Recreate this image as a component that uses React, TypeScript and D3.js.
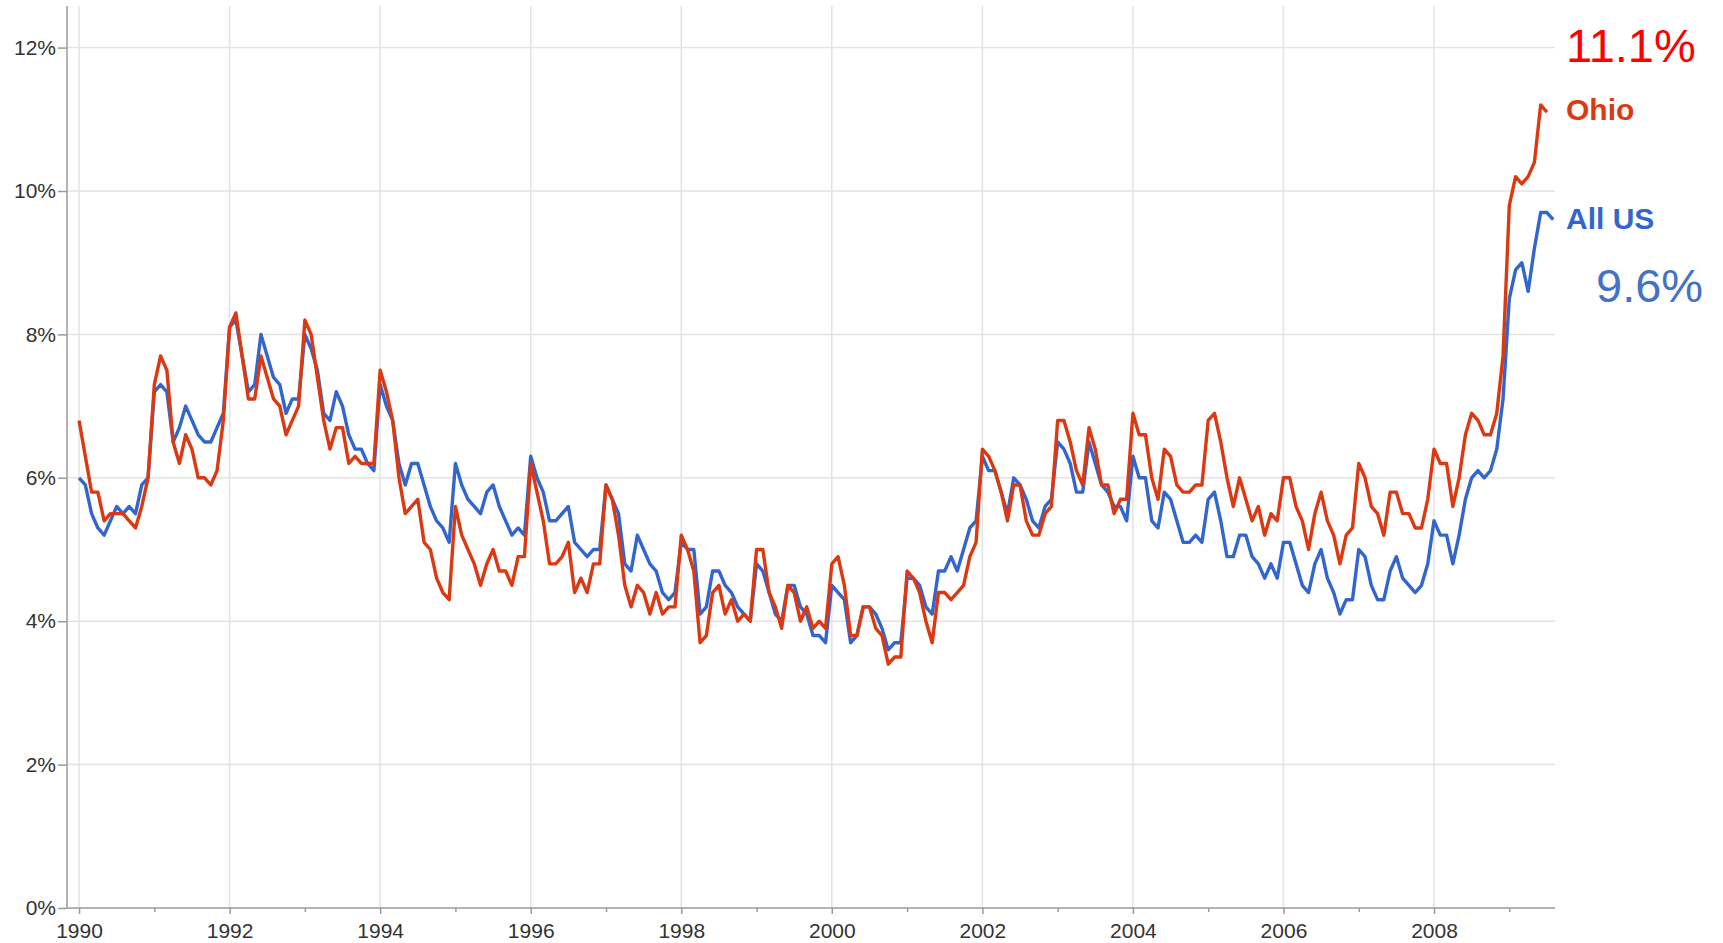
import React, { useEffect, useRef } from 'react';
import * as d3 from 'd3';

// monthly unemployment rate (%), first value is January 1990
const START_YEAR = 1990;

const ohio = [
	6.8, 6.3, 5.8, 5.8, 5.4, 5.5, 5.5, 5.5, 5.4, 5.3, 5.6, 6.0,
	7.3, 7.7, 7.5, 6.5, 6.2, 6.6, 6.4, 6.0, 6.0, 5.9, 6.1, 6.8,
	8.1, 8.3, 7.7, 7.1, 7.1, 7.7, 7.4, 7.1, 7.0, 6.6, 6.8, 7.0,
	8.2, 8.0, 7.4, 6.8, 6.4, 6.7, 6.7, 6.2, 6.3, 6.2, 6.2, 6.2,
	7.5, 7.2, 6.8, 6.0, 5.5, 5.6, 5.7, 5.1, 5.0, 4.6, 4.4, 4.3,
	5.6, 5.2, 5.0, 4.8, 4.5, 4.8, 5.0, 4.7, 4.7, 4.5, 4.9, 4.9,
	6.2, 5.8, 5.4, 4.8, 4.8, 4.9, 5.1, 4.4, 4.6, 4.4, 4.8, 4.8,
	5.9, 5.7, 5.2, 4.5, 4.2, 4.5, 4.4, 4.1, 4.4, 4.1, 4.2, 4.2,
	5.2, 5.0, 4.7, 3.7, 3.8, 4.4, 4.5, 4.1, 4.3, 4.0, 4.1, 4.0,
	5.0, 5.0, 4.4, 4.2, 3.9, 4.5, 4.4, 4.0, 4.2, 3.9, 4.0, 3.9,
	4.8, 4.9, 4.5, 3.8, 3.8, 4.2, 4.2, 3.9, 3.8, 3.4, 3.5, 3.5,
	4.7, 4.6, 4.4, 4.0, 3.7, 4.4, 4.4, 4.3, 4.4, 4.5, 4.9, 5.1,
	6.4, 6.3, 6.1, 5.8, 5.4, 5.9, 5.9, 5.4, 5.2, 5.2, 5.5, 5.6,
	6.8, 6.8, 6.5, 6.1, 5.9, 6.7, 6.4, 5.9, 5.9, 5.5, 5.7, 5.7,
	6.9, 6.6, 6.6, 6.0, 5.7, 6.4, 6.3, 5.9, 5.8, 5.8, 5.9, 5.9,
	6.8, 6.9, 6.5, 6.0, 5.6, 6.0, 5.7, 5.4, 5.6, 5.2, 5.5, 5.4,
	6.0, 6.0, 5.6, 5.4, 5.0, 5.5, 5.8, 5.4, 5.2, 4.8, 5.2, 5.3,
	6.2, 6.0, 5.6, 5.5, 5.2, 5.8, 5.8, 5.5, 5.5, 5.3, 5.3, 5.7,
	6.4, 6.2, 6.2, 5.6, 6.0, 6.6, 6.9, 6.8, 6.6, 6.6, 6.9, 7.7,
	9.8, 10.2, 10.1, 10.2, 10.4, 11.2, 11.1
];

const allUs = [
	6.0, 5.9, 5.5, 5.3, 5.2, 5.4, 5.6, 5.5, 5.6, 5.5, 5.9, 6.0,
	7.2, 7.3, 7.2, 6.5, 6.7, 7.0, 6.8, 6.6, 6.5, 6.5, 6.7, 6.9,
	8.1, 8.2, 7.7, 7.2, 7.3, 8.0, 7.7, 7.4, 7.3, 6.9, 7.1, 7.1,
	8.0, 7.8, 7.5, 6.9, 6.8, 7.2, 7.0, 6.6, 6.4, 6.4, 6.2, 6.1,
	7.3, 7.0, 6.8, 6.2, 5.9, 6.2, 6.2, 5.9, 5.6, 5.4, 5.3, 5.1,
	6.2, 5.9, 5.7, 5.6, 5.5, 5.8, 5.9, 5.6, 5.4, 5.2, 5.3, 5.2,
	6.3, 6.0, 5.8, 5.4, 5.4, 5.5, 5.6, 5.1, 5.0, 4.9, 5.0, 5.0,
	5.9, 5.7, 5.5, 4.8, 4.7, 5.2, 5.0, 4.8, 4.7, 4.4, 4.3, 4.4,
	5.1, 5.0, 5.0, 4.1, 4.2, 4.7, 4.7, 4.5, 4.4, 4.2, 4.1, 4.0,
	4.8, 4.7, 4.4, 4.1, 4.0, 4.5, 4.5, 4.2, 4.1, 3.8, 3.8, 3.7,
	4.5, 4.4, 4.3, 3.7, 3.8, 4.2, 4.2, 4.1, 3.9, 3.6, 3.7, 3.7,
	4.6, 4.6, 4.5, 4.2, 4.1, 4.7, 4.7, 4.9, 4.7, 5.0, 5.3, 5.4,
	6.3, 6.1, 6.1, 5.8, 5.5, 6.0, 5.9, 5.7, 5.4, 5.3, 5.6, 5.7,
	6.5, 6.4, 6.2, 5.8, 5.8, 6.5, 6.2, 5.9, 5.8, 5.6, 5.6, 5.4,
	6.3, 6.0, 6.0, 5.4, 5.3, 5.8, 5.7, 5.4, 5.1, 5.1, 5.2, 5.1,
	5.7, 5.8, 5.4, 4.9, 4.9, 5.2, 5.2, 4.9, 4.8, 4.6, 4.8, 4.6,
	5.1, 5.1, 4.8, 4.5, 4.4, 4.8, 5.0, 4.6, 4.4, 4.1, 4.3, 4.3,
	5.0, 4.9, 4.5, 4.3, 4.3, 4.7, 4.9, 4.6, 4.5, 4.4, 4.5, 4.8,
	5.4, 5.2, 5.2, 4.8, 5.2, 5.7, 6.0, 6.1, 6.0, 6.1, 6.4, 7.1,
	8.5, 8.9, 9.0, 8.6, 9.2, 9.7, 9.7, 9.6
];

const yTicks = [0, 2, 4, 6, 8, 10, 12];
const yearTicks = [1990, 1992, 1994, 1996, 1998, 2000, 2002, 2004, 2006, 2008];
const minorYearTicks = [1991, 1993, 1995, 1997, 1999, 2001, 2003, 2005, 2007, 2009];

const WIDTH = 1723;
const HEIGHT = 943;
const FONT = '"Liberation Sans", Arial, sans-serif';

const drawChart = (ref) => {
	const svg = d3.select(ref.current);
	svg.selectAll('*').remove();

	const left = 67;
	const right = 1555;
	const top = 6;
	const bottom = 908;

	const x = d3.scaleLinear().domain([1989.84, 2009.607])
		.range([left, right]);
	const y = d3.scaleLinear().domain([0, 12])
		.range([bottom, 47.6]);
	const monthX = (d, i) => x(START_YEAR + i / 12);

	const g = svg.append('g');

	// grid
	g.append('g').selectAll('line')
		.data(yTicks.filter((d) => d > 0))
		.enter()
		.append('line')
		.attr('x1', left)
		.attr('x2', right)
		.attr('y1', (d) => y(d))
		.attr('y2', (d) => y(d))
		.attr('stroke', '#e3e3e3')
		.attr('stroke-width', 1.5);
	g.append('g').selectAll('line')
		.data(yearTicks)
		.enter()
		.append('line')
		.attr('x1', (d) => x(d))
		.attr('x2', (d) => x(d))
		.attr('y1', top)
		.attr('y2', bottom)
		.attr('stroke', '#e3e3e3')
		.attr('stroke-width', 1.5);

	// axes
	const yAxis = g.append('g').attr('transform', `translate(${ left },0)`)
		.call(d3.axisLeft(y).tickValues(yTicks)
			.tickFormat((d) => `${ d }%`)
			.tickSize(9)
			.tickSizeOuter(0)
			.tickPadding(2));
	yAxis.select('.domain').remove();

	const xAxis = g.append('g').attr('transform', `translate(0,${ bottom })`)
		.call(d3.axisBottom(x).tickValues(yearTicks)
			.tickFormat(d3.format('d'))
			.tickSize(6)
			.tickSizeOuter(0)
			.tickPadding(9));
	xAxis.select('.domain').remove();
	g.append('g').attr('transform', `translate(0,${ bottom })`)
		.call(d3.axisBottom(x).tickValues(minorYearTicks)
			.tickFormat('')
			.tickSize(4)
			.tickSizeOuter(0))
		.select('.domain')
		.remove();

	g.append('line').attr('x1', left)
		.attr('x2', left)
		.attr('y1', top)
		.attr('y2', bottom)
		.attr('stroke', '#9a9a9a')
		.attr('stroke-width', 1.5);
	g.append('line').attr('x1', left)
		.attr('x2', right)
		.attr('y1', bottom)
		.attr('y2', bottom)
		.attr('stroke', '#9a9a9a')
		.attr('stroke-width', 1.5);

	g.selectAll('.tick line').attr('stroke', '#9a9a9a')
		.attr('stroke-width', 1.5);
	g.selectAll('.tick text').attr('fill', '#333')
		.style('font-family', FONT)
		.style('font-size', '21px');

	// series
	const line = d3.line().x(monthX)
		.y((d) => y(d));

	g.append('path').datum(allUs)
		.attr('d', line)
		.attr('fill', 'none')
		.attr('stroke', '#3366cc')
		.attr('stroke-width', 3.4)
		.attr('stroke-linejoin', 'round');
	g.append('path').datum(ohio)
		.attr('d', line)
		.attr('fill', 'none')
		.attr('stroke', '#dc3912')
		.attr('stroke-width', 3.4)
		.attr('stroke-linejoin', 'round');

	// labels on the right
	const labels = [
		{ text: '11.1%', x: 1566, y: 62, size: 47, weight: 'normal', color: '#ff0000' },
		{ text: 'Ohio', x: 1566, y: 120, size: 30, weight: 'bold', color: '#dc3912' },
		{ text: 'All US', x: 1566, y: 229, size: 30, weight: 'bold', color: '#3366cc' },
		{ text: '9.6%', x: 1596, y: 302, size: 47, weight: 'normal', color: '#4472c4' }
	];
	g.append('g').selectAll('text')
		.data(labels)
		.enter()
		.append('text')
		.attr('x', (d) => d.x)
		.attr('y', (d) => d.y)
		.attr('fill', (d) => d.color)
		.style('font-family', FONT)
		.style('font-size', (d) => `${ d.size }px`)
		.style('font-weight', (d) => d.weight)
		.text((d) => d.text);
};

const App = () => {
	const ref = useRef(null);

	useEffect(() => drawChart(ref), []);

	return (
		<svg
			ref={ ref }
			width={ WIDTH }
			height={ HEIGHT }
			style={ { position: 'absolute', left: 0, top: 0, background: '#fff' } }
		/>
	);
};

export default App;
